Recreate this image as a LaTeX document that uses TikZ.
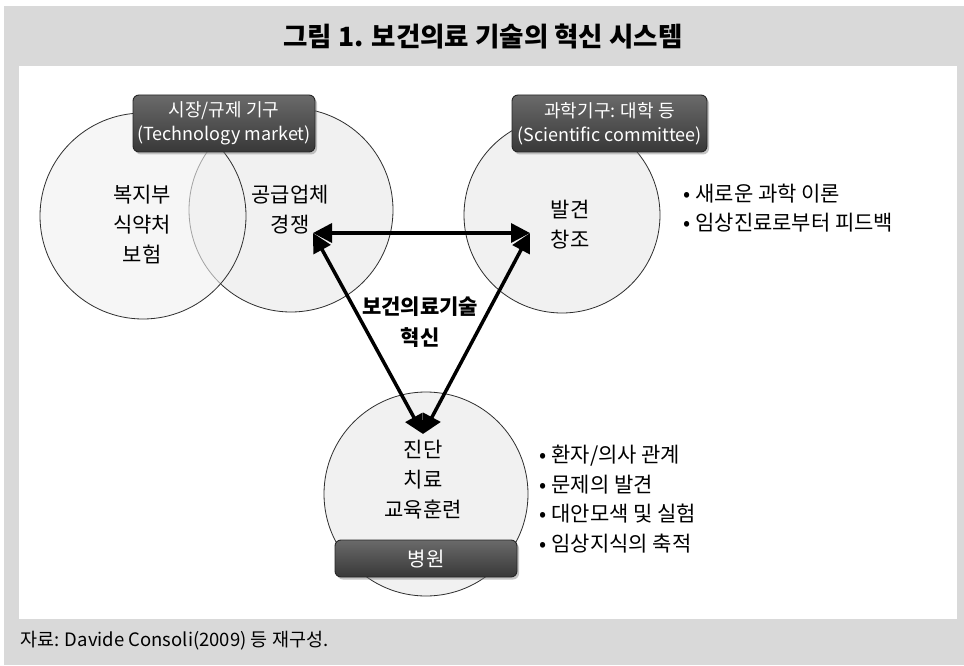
\documentclass[tikz,border=0pt]{standalone}
\usepackage{fontspec}
\setmainfont{Noto Sans CJK KR}
\usetikzlibrary{arrows.meta,shadows}
\definecolor{bggray}{HTML}{D9D9D9}
\definecolor{circfill}{HTML}{F1F1F1}
\definecolor{circline}{HTML}{2E2E2E}
\definecolor{boxtop}{HTML}{6A6A6A}
\definecolor{boxbot}{HTML}{383838}
\begin{document}
\begin{tikzpicture}[x=1pt,y=-1pt,
 circ/.style={circle, draw=circline, line width=0.8pt, fill=circfill, inner sep=0pt},
 dbox/.style={rounded corners=6pt, draw=black!85, line width=0.9pt, top color=boxtop, bottom color=boxbot, text=white, align=center, inner sep=0pt, drop shadow={shadow xshift=2pt, shadow yshift=-2.5pt, opacity=0.45}},
 body/.style={align=center, font=\fontsize{21}{30}\selectfont},
 blist/.style={align=left, anchor=west, font=\fontsize{21}{29.5}\selectfont},
 arr/.style={{Triangle[length=19pt,width=19pt]}-{Triangle[length=19pt,width=19pt]}, line width=3.5pt}
]
\useasboundingbox (0,0) rectangle (964,666);
\fill[white] (0,0) rectangle (964,666);
\fill[bggray] (4,6) rectangle (964,665);
\fill[white] (19,66) rectangle (957,619);

% title and source
\node[font=\bfseries\fontsize{26.5}{26.5}\selectfont] (title) at (483,37) {그림 1. 보건의료 기술의 혁신 시스템};
\node[anchor=west, font=\fontsize{18.5}{18.5}\selectfont, inner sep=0pt] (src) at (20,641) {자료: Davide Consoli(2009) 등 재구성.};

% circles
\node[circ, minimum size=204pt] (c2) at (291,210) {};
\node[circ, minimum size=206pt, fill opacity=0.6] (c1) at (143,216) {};
\node[circ, minimum size=196pt] (c3) at (562,215) {};
\node[circ, minimum size=204pt] (c4) at (426,494) {};

% boxes
\node[dbox, minimum width=182pt, minimum height=57pt, font=\fontsize{18}{24}\selectfont] (b1) at (224,123.5) {시장/규제 기구\\(Technology market)};
\node[dbox, minimum width=195pt, minimum height=57pt, font=\fontsize{18}{24}\selectfont] (b2) at (609.5,123.5) {과학기구: 대학 등\\(Scientific committee)};
\node[dbox, minimum width=182pt, minimum height=37pt, font=\fontsize{20}{24}\selectfont] (b3) at (426,558.5) {병원};

% circle texts
\node[body] (t1) at (142,225) {복지부\\식약처\\보험};
\node[body] (t2) at (290,210) {공급업체\\경쟁};
\node[body] (t3) at (570,225) {발견\\창조};
\node[body] (t4) at (423,480) {진단\\치료\\교육훈련};

% bullet lists
\node[blist] (l1) at (680,208) {• 새로운 과학 이론\\• 임상진료로부터 피드백};
\node[blist] (l2) at (536,499) {• 환자/의사 관계\\• 문제의 발견\\• 대안모색 및 실험\\• 임상지식의 축적};

% arrows
\coordinate (A) at (313,233);
\coordinate (B) at (530,233);
\coordinate (C) at (423,434);
\draw[arr] (A) -- (B);
\draw[arr] (A) -- (C);
\draw[arr] (B) -- (C);

\node[body, font=\bfseries\fontsize{21}{31}\selectfont] (ctr) at (420,322) {보건의료기술\\혁신};
\end{tikzpicture}
\end{document}
